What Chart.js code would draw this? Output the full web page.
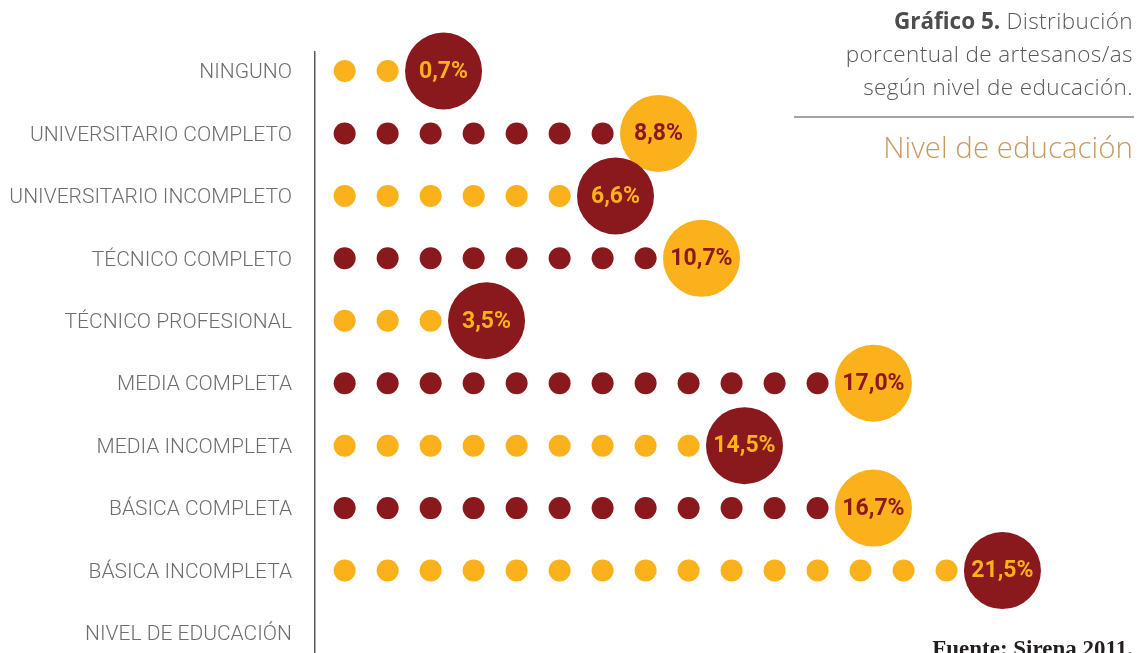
<!DOCTYPE html>
<html lang="es">
<head>
<meta charset="UTF-8">
<title>Nivel de educación</title>
<script src="https://cdn.jsdelivr.net/npm/chart.js@4.4.1/dist/chart.umd.min.js"></script>
<style>
  body { margin: 0; background: #ffffff; overflow: hidden; }
  #wrap { position: relative; width: 1137px; height: 653px; overflow: hidden; }
  #wrap canvas { position: absolute; left: 0; top: 0; }
  #title {
    position: absolute; right: 4px; top: 4px; text-align: right;
    font-family: "Open Sans", sans-serif; font-weight: 300; font-size: 22.5px;
    letter-spacing: 0.4px; line-height: 33px; color: #58595b; white-space: nowrap;
  }
  #title b { font-weight: 700; color: #4d4d4f; letter-spacing: 0; }
  #rule { position: absolute; left: 794px; width: 340px; top: 116px; border-top: 2px solid #a3a3a3; }
  #subtitle {
    position: absolute; right: 4px; top: 132px;
    font-family: "Open Sans", sans-serif; font-weight: 300; font-size: 29.5px;
    line-height: 30px; color: #c99a5f; white-space: nowrap;
  }
  #source {
    position: absolute; right: 4px; top: 637px;
    font-family: "Liberation Serif", serif; font-weight: 700; font-size: 23px;
    line-height: 23px; color: #231f20; white-space: nowrap;
  }
</style>
</head>
<body>
<div id="wrap">
  <canvas id="dotChart" width="1137" height="653"></canvas>
  <div id="title"><b>Gráfico 5.</b> Distribución<br>porcentual de artesanos/as<br>según nivel de educación.</div>
  <div id="rule"></div>
  <div id="subtitle">Nivel de educación</div>
  <div id="source">Fuente: Sirena 2011.</div>
</div>

<script>
  // data
  const categories = [
    "NINGUNO",
    "UNIVERSITARIO COMPLETO",
    "UNIVERSITARIO INCOMPLETO",
    "TÉCNICO COMPLETO",
    "TÉCNICO PROFESIONAL",
    "MEDIA COMPLETA",
    "MEDIA INCOMPLETA",
    "BÁSICA COMPLETA",
    "BÁSICA INCOMPLETA",
  ];
  const percentages = [0.7, 8.8, 6.6, 10.7, 3.5, 17.0, 14.5, 16.7, 21.5];
  const dotCounts = [2, 7, 6, 8, 3, 12, 9, 12, 15];
  const axisTitle = "NIVEL DE EDUCACIÓN";

  const rowLabels = categories.concat([axisTitle]);
  const orange = "#fab11b";
  const maroon = "#8a191e";

  const dots = [];
  const bubbles = [];
  categories.forEach((cat, r) => {
    for (let i = 0; i < dotCounts[r]; i++) dots.push({ x: i, y: r });
    bubbles.push({ x: dotCounts[r] + 0.3, y: r });
  });

  function fmt(v) {
    return v.toFixed(1).replace(".", ",") + "%";
  }

  // write the percentage inside each big circle
  const bubbleLabels = {
    id: "bubbleLabels",
    afterDatasetsDraw(chart) {
      const meta = chart.getDatasetMeta(1);
      const ctx = chart.ctx;
      ctx.save();
      ctx.font = "700 23px Roboto";
      ctx.textAlign = "center";
      ctx.textBaseline = "middle";
      meta.data.forEach((pt, i) => {
        ctx.fillStyle = i % 2 ? maroon : orange;
        ctx.fillText(fmt(percentages[i]), pt.x, pt.y + 1);
      });
      ctx.restore();
    },
  };

  const ctx = document.getElementById("dotChart").getContext("2d");
  new Chart(ctx, {
    type: "scatter",
    data: {
      datasets: [
        {
          label: "puntos",
          data: dots,
          pointRadius: 11,
          borderWidth: 0,
          backgroundColor: (c) => (c.raw && c.raw.y % 2 ? maroon : orange),
          clip: false,
        },
        {
          label: "porcentaje",
          data: bubbles,
          pointRadius: 38.5,
          borderWidth: 0,
          backgroundColor: (c) => (c.raw && c.raw.y % 2 ? orange : maroon),
          clip: false,
        },
      ],
    },
    options: {
      responsive: false,
      animation: false,
      events: [],
      layout: {
        autoPadding: false,
        padding: { top: 52, bottom: 0, left: 0, right: 0 },
      },
      plugins: {
        legend: { display: false },
        tooltip: { enabled: false },
      },
      scales: {
        x: {
          type: "linear",
          min: -0.69,
          max: 18.43,
          display: false,
        },
        y: {
          type: "linear",
          reverse: true,
          min: -0.304,
          max: 9.32,
          afterBuildTicks: (s) => {
            s.ticks = rowLabels.map((_, i) => ({ value: i }));
          },
          afterFit: (s) => {
            s.width = 315;
            // labels sit well inside the area, no extra room needed
            s.paddingTop = 0;
            s.paddingBottom = 0;
          },
          ticks: {
            autoSkip: false,
            padding: 23,
            labelOffset: 2,
            color: "#6d6e71",
            font: { family: "Roboto", weight: 300, size: 21 },
            callback: (v) => rowLabels[v],
          },
          grid: { display: false, drawTicks: false },
          border: { display: true, color: "#58595b", width: 1.5 },
        },
      },
    },
    plugins: [bubbleLabels],
  });
</script>
</body>
</html>
